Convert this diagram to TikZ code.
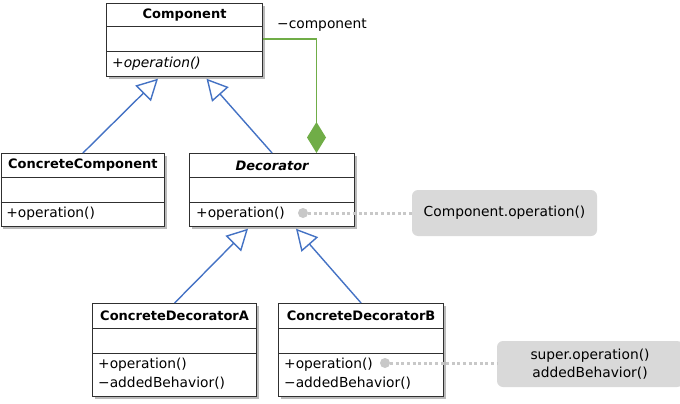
\documentclass[tikz,border=0pt]{standalone}
\usepackage{fontspec}
\setmainfont{DejaVu Sans}
\usetikzlibrary{arrows.meta,calc,shadows}
\definecolor{umlblue}{HTML}{4472C4}
\definecolor{umlgreen}{HTML}{70AD47}
\definecolor{notegray}{HTML}{D9D9D9}
\definecolor{dotgray}{HTML}{C8C8C8}
\definecolor{boxline}{HTML}{303030}
\begin{document}
\begin{tikzpicture}[x=1pt,y=-1pt,
  every node/.style={inner sep=0pt, text=black},
  txt/.style={font=\fontsize{13.8}{17.5}\selectfont},
  classbox/.style={draw=boxline, line width=1.2pt, fill=white, rectangle, anchor=north west,
     drop shadow={shadow xshift=2pt, shadow yshift=-2pt, fill=black!45, opacity=0.6}},
  sepline/.style={draw=boxline, line width=1pt},
  title/.style={font=\fontsize{13}{16}\selectfont\bfseries},
  optext/.style={txt, anchor=west},
  inherit/.style={draw=umlblue, line width=1.4pt, -{Triangle[open, length=21pt, width=22pt, line width=1.4pt, fill=white]}},
  compos/.style={draw=umlgreen, line width=1.6pt, -{Diamond[length=31pt, width=19pt, fill=umlgreen]}},
  note/.style={txt, fill=notegray, rounded corners=6pt, align=center},
  dotlink/.style={draw=dotgray, line width=3pt, dash pattern=on 3pt off 2.6pt},
  dotend/.style={circle, fill=dotgray, minimum size=10pt},
]
\useasboundingbox (0,0) rectangle (680,404);

% Component
\node[classbox, minimum width=156pt, minimum height=73pt] (comp) at (106,3) {};
\draw[sepline] ($(comp.north west)+(0,24)$) -- ($(comp.north east)+(0,24)$);
\draw[sepline] ($(comp.north west)+(0,49)$) -- ($(comp.north east)+(0,49)$);
\node[title] (compT) at ($(comp.north)+(0,12.5)$) {Component};
\node[optext, font=\fontsize{13.8}{17.5}\selectfont\itshape] (compO) at ($(comp.north west)+(6,61)$) {+operation()};

% ConcreteComponent
\node[classbox, minimum width=163.3pt, minimum height=73pt] (cc) at (0.7,153) {};
\draw[sepline] ($(cc.north west)+(0,24)$) -- ($(cc.north east)+(0,24)$);
\draw[sepline] ($(cc.north west)+(0,49)$) -- ($(cc.north east)+(0,49)$);
\node[title] (ccT) at ($(cc.north)+(0,12.5)$) {ConcreteComponent};
\node[optext] (ccO) at ($(cc.north west)+(5.5,61)$) {+operation()};

% Decorator
\node[classbox, minimum width=165pt, minimum height=73pt] (dec) at (189,153) {};
\draw[sepline] ($(dec.north west)+(0,24)$) -- ($(dec.north east)+(0,24)$);
\draw[sepline] ($(dec.north west)+(0,49)$) -- ($(dec.north east)+(0,49)$);
\node[title, font=\fontsize{13}{16}\selectfont\bfseries\itshape] (decT) at ($(dec.north)+(0,12.5)$) {Decorator};
\node[optext] (decO) at ($(dec.north west)+(7,61)$) {+operation()};

% ConcreteDecoratorA
\node[classbox, minimum width=164pt, minimum height=93pt] (cda) at (92,303) {};
\draw[sepline] ($(cda.north west)+(0,25)$) -- ($(cda.north east)+(0,25)$);
\draw[sepline] ($(cda.north west)+(0,50)$) -- ($(cda.north east)+(0,50)$);
\node[title] (cdaT) at ($(cda.north)+(0,12.5)$) {ConcreteDecoratorA};
\node[optext] (cdaO1) at ($(cda.north west)+(6,61.5)$) {+operation()};
\node[optext] (cdaO2) at ($(cda.north west)+(6,80)$) {−addedBehavior()};

% ConcreteDecoratorB
\node[classbox, minimum width=165pt, minimum height=93pt] (cdb) at (278,303) {};
\draw[sepline] ($(cdb.north west)+(0,25)$) -- ($(cdb.north east)+(0,25)$);
\draw[sepline] ($(cdb.north west)+(0,50)$) -- ($(cdb.north east)+(0,50)$);
\node[title] (cdbT) at ($(cdb.north)+(0,12.5)$) {ConcreteDecoratorB};
\node[optext] (cdbO1) at ($(cdb.north west)+(6,61.5)$) {+operation()};
\node[optext] (cdbO2) at ($(cdb.north west)+(6,80)$) {−addedBehavior()};

% inheritance
\draw[inherit] (cc.north) -- ($(comp.south west)+(52,1.5)$);
\draw[inherit] (dec.north) -- ($(comp.south west)+(100.5,1.5)$);
\draw[inherit] (cda.north) -- ($(dec.south west)+(59,1.5)$);
\draw[inherit] (cdb.north) -- ($(dec.south west)+(107,1.5)$);

% composition
\draw[compos] ($(comp.north east)+(0,36)$) -| ($(dec.north west)+(127.5,0)$);
\node[txt, anchor=west] (lbl) at (277,25) {−component};

% notes
\node[note, minimum width=185pt, minimum height=46pt] (n1) at (504.5,213) {Component.operation()};
\node[dotend] (d1) at (303,213) {};
\draw[dotlink] (d1.east) -- (n1.west);

\node[note, minimum width=186pt, minimum height=46pt] (n2) at (590,364) {super.operation()\\addedBehavior()};
\node[dotend] (d2) at (385,363) {};
\draw[dotlink] (d2.east) -- (d2.east -| n2.west);
\end{tikzpicture}
\end{document}
